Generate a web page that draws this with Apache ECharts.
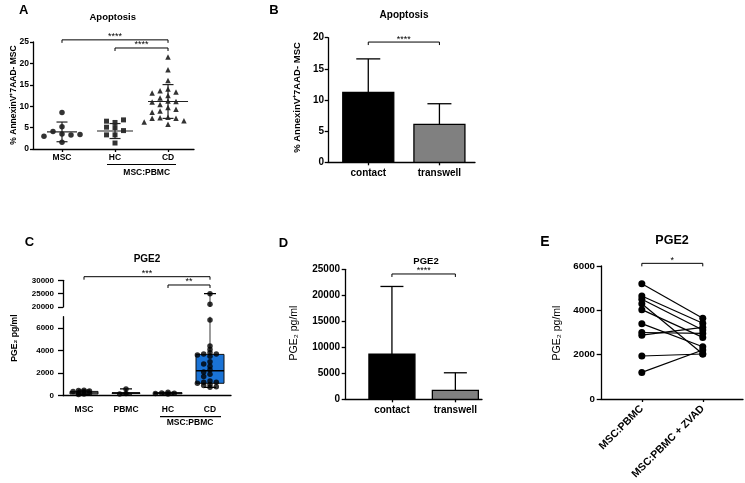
<!DOCTYPE html>
<html><head><meta charset="utf-8">
<script src="https://cdn.jsdelivr.net/npm/echarts@6/dist/echarts.min.js"></script>
<style>html,body{margin:0;padding:0;background:#fff}#c{width:745px;height:483px}</style>
</head><body><div id="c"></div>
<script>
// ---------- DATA ----------
// Panel A: Apoptosis, % AnnexinV+7AAD- MSC
const aCats = ['MSC', 'HC', 'CD'];
const aMSC = [8.5, 5.2, 4.1, 3.5, 3.3, 3.0, 3.4, 1.6];
const aHC = [6.2, 6.5, 6.8, 5.1, 5.0, 4.3, 3.3, 3.3, 1.4];
const aCD = [21.5, 18.5, 16.0, 14.0, 13.6, 13.3, 13.1, 12.5, 11.9, 11.2, 11.1, 11.0,
             10.4, 9.7, 9.3, 8.9, 8.6, 7.4, 7.3, 7.2, 7.2, 6.6, 6.3, 5.8];
const aMean = [4.0, 4.2, 11.1];
const aSD = [2.3, 1.75, 3.95];
// Panel B: Apoptosis contact vs transwell
const bCats = ['contact', 'transwell'];
const bMean = [11.2, 6.1];
const bSD = [5.4, 3.3];
// Panel C: PGE2 pg/ml box plots
const cCats = ['MSC', 'PBMC', 'HC', 'CD'];
const cMSC = [480, 450, 420, 380, 320, 270, 220, 160, 100];
const cPBMC = [600, 200, 150];
const cHC = [300, 250, 220, 200, 150];
const cCD = [25000, 21000, 6700, 4400, 4100, 3800, 3700, 3700, 3600, 3500, 3000, 2800, 2600,
             2300, 2100, 1900, 1700, 1300, 1200, 1200, 1100, 1000, 900, 800, 740];
const cMin = [100, 150, 150, 740];
const cQ1 = [150, 200, 170, 1100];
const cMed = [250, 250, 220, 2210];
const cQ3 = [380, 250, 270, 3660];
const cMax = [500, 600, 300, 25000];
// Panel D: PGE2 contact vs transwell
const dCats = ['contact', 'transwell'];
const dMean = [8700, 1700];
const dSD = [13000, 3400];
// Panel E: paired PGE2
const eCats = ['MSC:PBMC', 'MSC:PBMC + ZVAD'];
const eLeft = [5200, 4650, 4500, 4300, 4030, 3400, 3000, 2880, 1940, 1200];
const eRight = [3640, 3415, 3110, 2030, 2780, 2360, 2960, 3235, 2030, 2210];
// Significance brackets: [from category, to category, level in axis units]
const aBrackets = [[0, 2, 25.5], [1, 2, 23.6]];
const aStars = ['****', '****'];
const bBrackets = [[0, 1, 19.3]];
const bStars = ['****'];
const cBrackets = [[0, 3, 31350], [2, 3, 28240]];
const cStars = ['***', '**'];
const dBrackets = [[0, 1, 24100]];
const dStars = ['****'];
const eBrackets = [[0, 1, 6120]];
const eStars = ['*'];

// ---------- HELPERS ----------
const FONT = '"Liberation Sans", Arial, Helvetica, sans-serif';
const AX = {color: '#000', width: 1.3};

// simple beeswarm: place each point at the nearest free horizontal slot
function swarm(vals, gap, step) {
  const placed = [];
  return vals.map(v => {
    let k = 0, n = 0;
    while (true) {
      const o = n === 0 ? 0 : (n % 2 ? -Math.ceil(n / 2) : Math.ceil(n / 2));
      if (!placed.some(p => p[0] === o && Math.abs(p[1] - v) < gap)) { k = o; break; }
      n++;
    }
    placed.push([k, v]);
    return k * step;
  });
}
function pts(cat, vals, gap, step) {
  const off = swarm(vals, gap, step);
  return vals.map((v, i) => [cat + off[i], v]);
}
function yAx(grid, min, max, interval, size, tickLen, margin, extra) {
  return Object.assign({
    type: 'value', gridIndex: grid, min: min, max: max, interval: interval,
    axisLine: {show: true, onZero: false, lineStyle: AX},
    axisTick: {show: true, length: tickLen, lineStyle: AX},
    axisLabel: {fontFamily: FONT, fontWeight: 'bold', fontSize: size, color: '#000', margin: margin,
      formatter: v => String(v)},
    splitLine: {show: false}
  }, extra || {});
}
function xAx(grid, min, max, cats, size, margin, ticks, extra) {
  const vals = cats.map((c, i) => i);
  return Object.assign({
    type: 'value', gridIndex: grid, min: min, max: max,
    axisLine: {show: true, onZero: false, lineStyle: AX},
    axisTick: {show: ticks, length: 3, customValues: vals, lineStyle: AX},
    axisLabel: {customValues: vals, formatter: v => cats[Math.round(v)] || '',
      fontFamily: FONT, fontWeight: 'bold', fontSize: size, color: '#000', margin: margin},
    splitLine: {show: false}
  }, extra || {});
}
function bracketSeries(ax, brackets, stars) {
  return {
    type: 'custom', xAxisIndex: ax, yAxisIndex: ax, clip: false, silent: true, z: 5,
    data: brackets, encode: {x: [0, 1], y: 2},
    renderItem: function (params, api) {
      const p1 = api.coord([api.value(0), api.value(2)]);
      const p2 = api.coord([api.value(1), api.value(2)]);
      return {type: 'group', children: [
        {type: 'polyline', shape: {points: [[p1[0], p1[1] + 3], [p1[0], p1[1]], [p2[0], p2[1]], [p2[0], p2[1] + 3]]},
          style: {stroke: '#000', lineWidth: 1, fill: null}},
        {type: 'text', x: (p1[0] + p2[0]) / 2, y: p1[1] - 3,
          style: {text: stars[params.dataIndex], fontFamily: FONT, fontSize: 9, fill: '#000', align: 'center', verticalAlign: 'middle'}}
      ]};
    }
  };
}
function barSeries(ax, means, sds, barW, capW, colors) {
  return {
    type: 'custom', xAxisIndex: ax, yAxisIndex: ax, clip: false,
    data: means.map((m, i) => [i, m, sds[i]]), encode: {x: 0, y: 1},
    renderItem: function (params, api) {
      const x = api.value(0), m = api.value(1), s = api.value(2);
      const b = api.coord([x, 0]), t = api.coord([x, m]), e = api.coord([x, m + s]);
      return {type: 'group', children: [
        {type: 'line', shape: {x1: t[0], y1: t[1], x2: e[0], y2: e[1]}, style: {stroke: '#000', lineWidth: 1.3}},
        {type: 'line', shape: {x1: e[0] - capW / 2, y1: e[1], x2: e[0] + capW / 2, y2: e[1]}, style: {stroke: '#000', lineWidth: 1.3}},
        {type: 'rect', shape: {x: b[0] - barW / 2, y: t[1], width: barW, height: b[1] - t[1]},
          style: {fill: colors[params.dataIndex], stroke: '#000', lineWidth: 1.3}}
      ]};
    }
  };
}
const meanLineW = [30, 36, 40];
function meanSdSeries() {
  return {
    type: 'custom', xAxisIndex: 0, yAxisIndex: 0, clip: false, z: 4,
    data: aMean.map((m, i) => [i, m, aSD[i]]), encode: {x: 0, y: 1},
    renderItem: function (params, api) {
      const x = api.value(0), m = api.value(1), s = api.value(2);
      const c = api.coord([x, m]), t = api.coord([x, m + s]), b = api.coord([x, m - s]);
      const w = meanLineW[params.dataIndex], cw = 11;
      const st = {stroke: '#222', lineWidth: 1.2};
      return {type: 'group', children: [
        {type: 'line', shape: {x1: c[0], y1: t[1], x2: c[0], y2: b[1]}, style: st},
        {type: 'line', shape: {x1: c[0] - cw / 2, y1: t[1], x2: c[0] + cw / 2, y2: t[1]}, style: st},
        {type: 'line', shape: {x1: c[0] - cw / 2, y1: b[1], x2: c[0] + cw / 2, y2: b[1]}, style: st},
        {type: 'line', shape: {x1: c[0] - w / 2, y1: c[1], x2: c[0] + w / 2, y2: c[1]}, style: st}
      ]};
    }
  };
}
const boxFill = ['#fff', '#fff', '#fff', '#1a73d6'];
const whiskerColor = ['#000', '#000', '#000', '#666'];
function boxSeries(ax) {
  return {
    type: 'custom', xAxisIndex: ax, yAxisIndex: ax, clip: true, z: 2,
    data: cCats.map((c, i) => [i, cMin[i], cQ1[i], cMed[i], cQ3[i], cMax[i]]),
    encode: {x: 0, y: [1, 2, 3, 4, 5]},
    renderItem: function (params, api) {
      const i = params.dataIndex, x = api.value(0);
      const pMin = api.coord([x, api.value(1)]), pQ1 = api.coord([x, api.value(2)]),
        pMed = api.coord([x, api.value(3)]), pQ3 = api.coord([x, api.value(4)]), pMax = api.coord([x, api.value(5)]);
      const cx = pMed[0], bw = 28, cw = 12;
      const ws = {stroke: whiskerColor[i], lineWidth: 1.3};
      return {type: 'group', children: [
        {type: 'line', shape: {x1: cx, y1: pMax[1], x2: cx, y2: pMin[1]}, style: ws},
        {type: 'line', shape: {x1: cx - cw / 2, y1: pMax[1], x2: cx + cw / 2, y2: pMax[1]}, style: {stroke: '#000', lineWidth: 1.3}},
        {type: 'line', shape: {x1: cx - cw / 2, y1: pMin[1], x2: cx + cw / 2, y2: pMin[1]}, style: {stroke: '#000', lineWidth: 1.3}},
        {type: 'rect', shape: {x: cx - bw / 2, y: pQ3[1], width: bw, height: pQ1[1] - pQ3[1]},
          style: {fill: boxFill[i], stroke: '#111', lineWidth: 1}},
        {type: 'line', shape: {x1: cx - bw / 2, y1: pMed[1], x2: cx + bw / 2, y2: pMed[1]}, style: {stroke: '#000', lineWidth: 1.3}}
      ]};
    }
  };
}
function cScatter(ax) {
  const data = [].concat(pts(0, cMSC, 150, 0.13), pts(1, cPBMC, 150, 0.15), pts(2, cHC, 150, 0.15), pts(3, cCD, 220, 0.15));
  return {type: 'scatter', xAxisIndex: ax, yAxisIndex: ax, symbol: 'circle', symbolSize: 5.5, z: 3, clip: true,
    itemStyle: {color: '#000'}, data: data};
}

// ---------- OPTION ----------
const texts = [
  ['A', 23.7, 10.5, 13, 'bold', 0], ['B', 274, 10.5, 13, 'bold', 0], ['C', 29.5, 242, 13, 'bold', 0],
  ['D', 283.5, 243, 13, 'bold', 0], ['E', 545, 241.7, 14, 'bold', 0],
  ['Apoptosis', 112.7, 17.3, 9.5, 'bold', 0], ['Apoptosis', 404, 15, 10, 'bold', 0],
  ['PGE2', 147, 259.3, 10, 'bold', 0], ['PGE2', 426, 261.7, 9.5, 'bold', 0], ['PGE2', 672, 241, 12.5, 'bold', 0],
  ['MSC:PBMC', 146.7, 172.7, 8.5, 'bold', 0], ['MSC:PBMC', 190, 423, 8.5, 'bold', 0],
  ['% AnnexinV\u207A7AAD- MSC', 13.3, 95, 8.5, 'bold', 1], ['% AnnexinV\u207A7AAD- MSC', 297.3, 97.5, 9.5, 'bold', 1],
  ['PGE\u2082 pg/ml', 15, 338, 8.6, 'bold', 1], ['PGE\u2082 pg/ml', 294, 333, 10.5, 'normal', 1],
  ['PGE\u2082 pg/ml', 556.7, 333, 10.5, 'normal', 1]
];
const graphic = texts.map(t => ({
  type: 'text', x: t[1], y: t[2], rotation: t[5] ? Math.PI / 2 : 0, silent: true,
  style: {text: t[0], fontFamily: FONT, fontSize: t[3], fontWeight: t[4], fill: '#000', align: 'center', verticalAlign: 'middle'}
})).concat([
  {type: 'line', shape: {x1: 107, y1: 164.5, x2: 176, y2: 164.5}, style: {stroke: '#000', lineWidth: 1.2}, silent: true},
  {type: 'line', shape: {x1: 160, y1: 416.7, x2: 221, y2: 416.7}, style: {stroke: '#000', lineWidth: 1.2}, silent: true}
]);

const series = [
  // A
  {type: 'scatter', xAxisIndex: 0, yAxisIndex: 0, symbol: 'circle', symbolSize: 5.5, itemStyle: {color: '#000'}, data: pts(0, aMSC, 1.15, 0.17)},
  {type: 'scatter', xAxisIndex: 0, yAxisIndex: 0, symbol: 'rect', symbolSize: 5, itemStyle: {color: '#000'}, data: pts(1, aHC, 1.15, 0.16)},
  {type: 'scatter', xAxisIndex: 0, yAxisIndex: 0, symbol: 'triangle', symbolSize: 5.5, itemStyle: {color: '#000'}, data: pts(2, aCD, 1.15, 0.15)},
  meanSdSeries(),
  bracketSeries(0, aBrackets, aStars),
  // B
  barSeries(1, bMean, bSD, 51, 24, ['#000', '#808080']),
  bracketSeries(1, bBrackets, bStars),
  // C
  boxSeries(2), boxSeries(3), cScatter(2), cScatter(3),
  bracketSeries(3, cBrackets, cStars),
  // D
  barSeries(4, dMean, dSD, 46, 23, ['#000', '#808080']),
  bracketSeries(4, dBrackets, dStars),
  bracketSeries(5, eBrackets, eStars)
];
eLeft.forEach((v, i) => {
  series.push({type: 'line', xAxisIndex: 5, yAxisIndex: 5, data: [[0, v], [1, eRight[i]]],
    symbol: 'circle', symbolSize: 7, showSymbol: true,
    lineStyle: {color: '#000', width: 1.2}, itemStyle: {color: '#000'}});
});

const option = {
  animation: false,
  backgroundColor: '#fff',
  textStyle: {fontFamily: FONT},
  grid: [
    {left: 33, top: 42, width: 161, height: 107},
    {left: 328, top: 37.7, width: 147, height: 124.6},
    {left: 63, top: 316.7, width: 168, height: 79},
    {left: 63, top: 280.3, width: 168, height: 26.7},
    {left: 345, top: 269.3, width: 137, height: 130},
    {left: 601, top: 266, width: 142, height: 133}
  ].map(g => Object.assign(g, {containLabel: false, outerBoundsMode: 'none'})),
  xAxis: [
    xAx(0, -0.547, 2.49, aCats, 8.5, 4.5, true),
    xAx(1, -0.566, 1.5, bCats, 10, 6, true),
    xAx(2, -0.5, 3.5, cCats, 8.5, 9.5, false),
    xAx(3, -0.5, 3.5, cCats, 8.5, 9.5, false, {show: false}),
    xAx(4, -0.74, 1.42, dCats, 10, 6.4, true),
    xAx(5, -0.67, 1.66, eCats, 10.5, 8, true, {})
  ],
  yAxis: [
    yAx(0, 0, 25, 5, 8.5, 3, 4),
    yAx(1, 0, 20, 5, 10, 3.3, 4),
    yAx(2, 0, 7000, 2000, 8, 5, 9, {}),
    yAx(3, 20000, 30000, 5000, 8, 5, 9),
    yAx(4, 0, 25000, 5000, 10, 3.3, 5),
    yAx(5, 0, 6000, 2000, 9.75, 4.3, 6)
  ],
  graphic: graphic,
  series: series
};
option.yAxis[2].axisLabel.showMaxLabel = false;
option.xAxis[5].axisLabel.rotate = 45;

const chart = echarts.init(document.getElementById('c'), null, {renderer: 'canvas'});
chart.setOption(option);
</script>
</body></html>
